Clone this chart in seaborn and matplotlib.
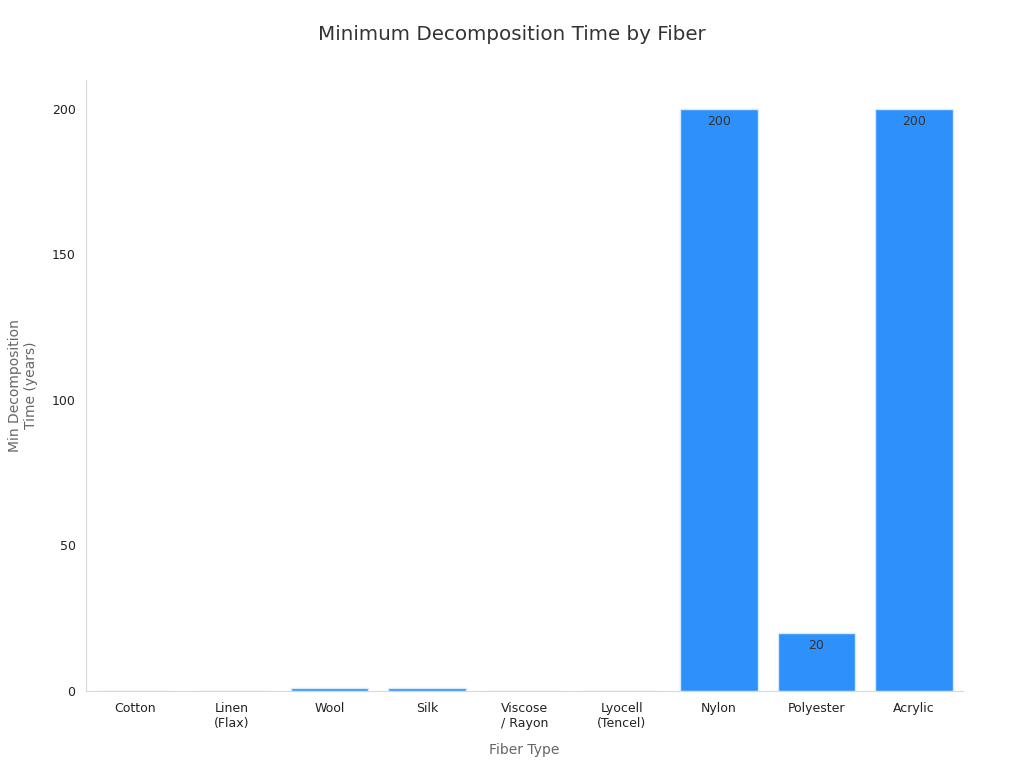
import pandas as pd
import matplotlib.pyplot as plt
import seaborn as sns

# Data
fibers = ['Cotton', 'Linen\n(Flax)', 'Wool', 'Silk', 'Viscose\n/ Rayon',
          'Lyocell\n(Tencel)', 'Nylon', 'Polyester', 'Acrylic']
min_years = [0.1, 0.04, 1, 1, 0.1, 0.1, 200, 20, 200]

df = pd.DataFrame({'Fiber Type': fibers, 'Years': min_years})

sns.set_style('white')
plt.rcParams['font.family'] = ['DejaVu Sans']

fig = plt.figure(figsize=(10.24, 7.68), dpi=100)
ax = fig.add_axes([0.084, 0.1003, 0.856, 0.7957])

sns.barplot(data=df, x='Fiber Type', y='Years', color='#2e90fa', saturation=1,
            width=0.8, edgecolor='#d6e9fd', linewidth=1, ax=ax)

ax.set_xlim(-0.5, len(fibers) - 0.5)
ax.set_ylim(0, 210)
ax.set_yticks([0, 50, 100, 150, 200])

# value labels inside the top of the bigger bars
for i, v in enumerate(min_years):
    if v >= 10:
        ax.text(i, v - 2, f'{v:g}', ha='center', va='top', fontsize=9, color='#333333')

for side in ['top', 'right']:
    ax.spines[side].set_visible(False)
for side in ['left', 'bottom']:
    ax.spines[side].set_color('#d9d9d9')

ax.tick_params(axis='both', length=4, color='#555555', labelsize=9, labelcolor='#222222')
ax.tick_params(axis='x', pad=4)

ax.set_xlabel('Fiber Type', fontsize=10, color='#666666', labelpad=9)
ax.set_ylabel('Min Decomposition\nTime (years)', fontsize=10, color='#666666', labelpad=10)
fig.suptitle('Minimum Decomposition Time by Fiber', fontsize=14.3, color='#333333', y=0.968)

fig.savefig('out.png', dpi=100)
